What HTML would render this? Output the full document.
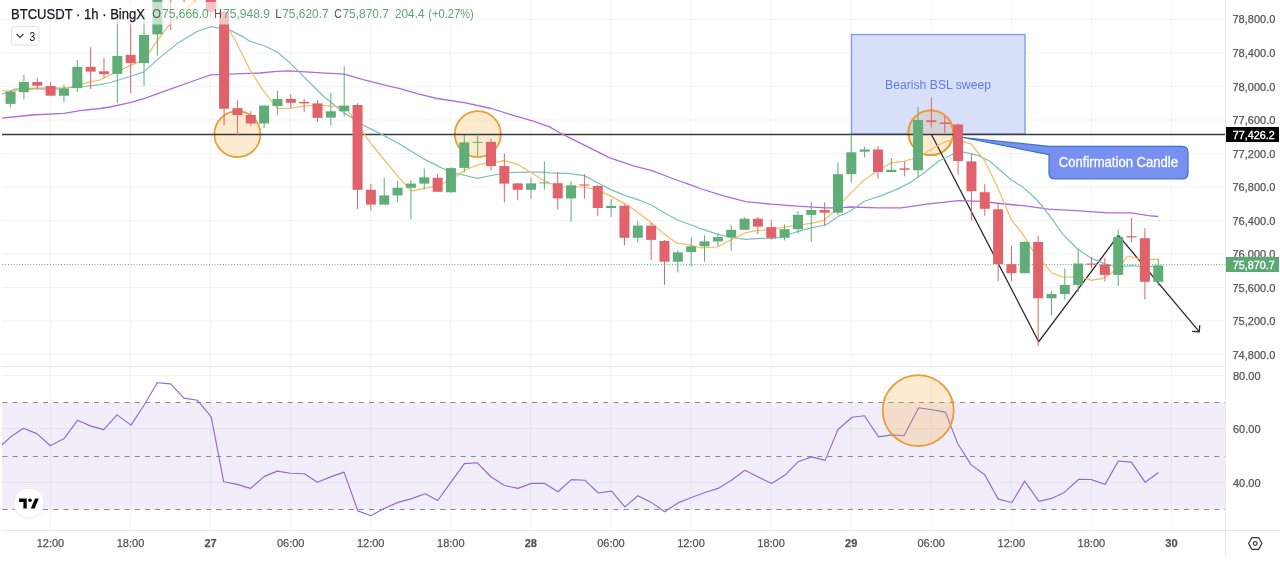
<!DOCTYPE html>
<html><head><meta charset="utf-8"><title>BTCUSDT chart</title>
<style>
html,body{margin:0;padding:0;background:#fff;width:1280px;height:561px;overflow:hidden;}
svg{display:block;font-family:'Liberation Sans', sans-serif;will-change:transform;}
</style></head><body>
<svg width="1280" height="561" viewBox="0 0 1280 561">
<defs>
<clipPath id="main"><rect x="2" y="0" width="1223" height="366"/></clipPath>
<clipPath id="rsip"><rect x="2" y="367" width="1223" height="163"/></clipPath>
</defs>
<rect width="1280" height="561" fill="#ffffff"/>

<g stroke="#f3f3f3" stroke-width="1"><line x1="50.45" y1="0" x2="50.45" y2="366" /><line x1="50.45" y1="367" x2="50.45" y2="530" /><line x1="130.51999999999998" y1="0" x2="130.51999999999998" y2="366" /><line x1="130.51999999999998" y1="367" x2="130.51999999999998" y2="530" /><line x1="210.58999999999997" y1="0" x2="210.58999999999997" y2="366" /><line x1="210.58999999999997" y1="367" x2="210.58999999999997" y2="530" /><line x1="290.65999999999997" y1="0" x2="290.65999999999997" y2="366" /><line x1="290.65999999999997" y1="367" x2="290.65999999999997" y2="530" /><line x1="370.72999999999996" y1="0" x2="370.72999999999996" y2="366" /><line x1="370.72999999999996" y1="367" x2="370.72999999999996" y2="530" /><line x1="450.79999999999995" y1="0" x2="450.79999999999995" y2="366" /><line x1="450.79999999999995" y1="367" x2="450.79999999999995" y2="530" /><line x1="530.87" y1="0" x2="530.87" y2="366" /><line x1="530.87" y1="367" x2="530.87" y2="530" /><line x1="610.94" y1="0" x2="610.94" y2="366" /><line x1="610.94" y1="367" x2="610.94" y2="530" /><line x1="691.01" y1="0" x2="691.01" y2="366" /><line x1="691.01" y1="367" x2="691.01" y2="530" /><line x1="771.0799999999999" y1="0" x2="771.0799999999999" y2="366" /><line x1="771.0799999999999" y1="367" x2="771.0799999999999" y2="530" /><line x1="851.15" y1="0" x2="851.15" y2="366" /><line x1="851.15" y1="367" x2="851.15" y2="530" /><line x1="931.22" y1="0" x2="931.22" y2="366" /><line x1="931.22" y1="367" x2="931.22" y2="530" /><line x1="1011.29" y1="0" x2="1011.29" y2="366" /><line x1="1011.29" y1="367" x2="1011.29" y2="530" /><line x1="1091.36" y1="0" x2="1091.36" y2="366" /><line x1="1091.36" y1="367" x2="1091.36" y2="530" /><line x1="1171.43" y1="0" x2="1171.43" y2="366" /><line x1="1171.43" y1="367" x2="1171.43" y2="530" /><line x1="2" y1="19.45" x2="1225" y2="19.45" /><line x1="2" y1="52.959999999999994" x2="1225" y2="52.959999999999994" /><line x1="2" y1="86.47" x2="1225" y2="86.47" /><line x1="2" y1="119.98" x2="1225" y2="119.98" /><line x1="2" y1="153.48999999999998" x2="1225" y2="153.48999999999998" /><line x1="2" y1="186.99999999999997" x2="1225" y2="186.99999999999997" /><line x1="2" y1="220.51" x2="1225" y2="220.51" /><line x1="2" y1="254.01999999999998" x2="1225" y2="254.01999999999998" /><line x1="2" y1="287.53" x2="1225" y2="287.53" /><line x1="2" y1="321.03999999999996" x2="1225" y2="321.03999999999996" /><line x1="2" y1="354.54999999999995" x2="1225" y2="354.54999999999995" /><line x1="2" y1="375.5" x2="1225" y2="375.5" /><line x1="2" y1="428.5" x2="1225" y2="428.5" /><line x1="2" y1="482.5" x2="1225" y2="482.5" /></g>
<g stroke="#e8e8ea" stroke-width="1"><line x1="2" y1="366.5" x2="1225" y2="366.5"/><line x1="2" y1="530.5" x2="1280" y2="530.5"/><line x1="1225.5" y1="0" x2="1225.5" y2="556"/></g>
<g clip-path="url(#rsip)">
<rect x="2" y="402.6" width="1223" height="107.1" fill="#7e57c2" fill-opacity="0.1"/>
<line x1="2" y1="402.5" x2="1225" y2="402.5" stroke="#868993" stroke-width="1" stroke-dasharray="5,5.185" stroke-dashoffset="-0.37"/>
<line x1="2" y1="456.5" x2="1225" y2="456.5" stroke="#868993" stroke-width="1" stroke-dasharray="5,5.185" stroke-dashoffset="-0.37"/>
<line x1="2" y1="509.5" x2="1225" y2="509.5" stroke="#868993" stroke-width="1" stroke-dasharray="5,5.185" stroke-dashoffset="-0.37"/>
<polyline points="-2.3,448.9 10.7,436.8 23.5,428.3 36.9,433.6 50.3,445.7 64.2,438.4 77.5,420.3 90.9,426.1 103.7,429.6 117.1,414.9 131.0,425.1 144.4,404.8 157.2,382.8 170.6,383.9 184.0,398.1 197.3,400.2 211.2,416.8 223.7,481.8 237.1,484.4 250.5,488.4 264.4,476.4 277.2,471.1 290.6,473.2 304.5,473.7 317.3,482.3 330.7,476.9 344.0,472.1 357.9,510.9 370.8,515.7 384.1,508.5 398.0,502.4 410.9,498.9 425.2,493.8 437.7,500.5 451.1,481.8 464.5,463.6 477.3,462.8 491.2,477.0 504.6,485.5 517.9,488.4 531.3,483.4 544.7,483.4 558.0,491.7 571.4,479.6 584.8,480.2 598.2,493.0 611.5,491.1 624.9,506.9 637.9,495.7 651.3,502.4 664.7,511.7 678.0,502.9 691.4,497.5 704.8,492.5 718.1,488.4 731.5,480.2 744.9,470.3 758.2,477.0 771.6,483.6 785.0,475.1 798.3,461.7 811.7,456.9 825.1,460.4 838.0,429.5 852.1,417.2 864.4,415.8 878.6,436.9 892.0,434.9 904.0,435.8 918.6,407.8 932.0,409.8 945.4,412.1 957.7,443.5 971.1,464.9 984.8,474.8 998.2,499.1 1011.9,502.5 1024.7,481.1 1039.0,501.4 1051.6,498.4 1064.2,492.4 1078.9,479.2 1091.1,479.5 1105.1,484.4 1118.3,461.0 1131.3,462.1 1145.2,482.3 1158.5,472.5" fill="none" stroke="#8c6ed2" stroke-width="1.15" stroke-linejoin="round"/>
<circle cx="918.2" cy="410.6" r="35.5" fill="#f5a623" fill-opacity="0.22" stroke="#eb9b38" stroke-width="1.8"/>
</g>
<g clip-path="url(#main)">
<rect x="851.5" y="34.5" width="173.5" height="99.5" fill="#d6ddf9" fill-opacity="0.95" stroke="#7b98f5" stroke-width="1.3"/>
<text x="938" y="89" font-size="12.5" fill="#5b7cf0" text-anchor="middle" textLength="106" lengthAdjust="spacingAndGlyphs">Bearish BSL sweep</text>
<clipPath id="rectc"><rect x="852" y="35" width="173" height="99"/></clipPath>
<circle cx="237.4" cy="134.2" r="23" fill="#f5a623" fill-opacity="0.22" stroke="#eb9b38" stroke-width="1.8"/>
<circle cx="477.8" cy="134.2" r="23" fill="#f5a623" fill-opacity="0.22" stroke="#eb9b38" stroke-width="1.8"/>
<circle cx="930.8" cy="132.8" r="22.4" fill="#f5a623" fill-opacity="0.22" stroke="#eb9b38" stroke-width="1.8"/>
<circle cx="930.8" cy="132.8" r="21.5" fill="#d5d3d5" clip-path="url(#rectc)"/>
<circle cx="930.8" cy="132.8" r="22.4" fill="none" stroke="#eb9b38" stroke-width="1.8"/>
<line x1="2" y1="134.5" x2="1225" y2="134.5" stroke="#3a3a3a" stroke-width="1.3"/>
<path d="M963,137.5 L1049,146.3 L1182,146.3 Q1188,146.3 1188,152.3 L1188,173 Q1188,179 1182,179 L1055,179 Q1049,179 1049,173 L1049,154.6 Z" fill="#7890f0" stroke="#3b74c4" stroke-width="1.2"/>
<text x="1058.8" y="166.9" font-size="13.8" fill="#ffffff" stroke="#ffffff" stroke-width="0.3" textLength="119.2" lengthAdjust="spacingAndGlyphs">Confirmation Candle</text>
<polyline points="931.3,134.2 1038.7,341.7 1118.4,235.4 1199.2,331.7" fill="none" stroke="#2b2b2b" stroke-width="1.3" stroke-linejoin="miter"/>
<polyline points="1192.1,331.3 1199.2,331.7 1199.8,325.3" fill="none" stroke="#2b2b2b" stroke-width="1.3"/>
<polyline points="2.0,118.1 32.0,115.0 64.0,113.4 80.0,110.6 100.0,108.5 110.0,107.0 130.1,102.7 144.0,98.6 169.6,89.3 197.4,79.5 210.8,74.9 229.9,74.2 260.0,73.0 277.1,71.4 290.0,70.8 321.3,72.8 344.1,74.2 364.1,79.9 386.9,85.6 400.0,88.6 417.1,93.7 437.1,98.5 465.6,102.8 491.3,108.5 514.1,115.7 534.1,121.4 550.0,127.1 561.4,133.7 584.2,145.1 609.9,157.9 632.7,165.6 652.7,170.8 672.6,178.5 692.6,185.6 700.0,188.5 722.8,195.6 745.6,201.6 771.3,204.2 797.0,206.2 825.5,207.9 839.8,207.9 850.0,207.0 878.5,207.8 901.3,207.8 927.0,204.1 958.4,200.7 981.2,201.3 1000.0,203.5 1022.8,205.7 1048.5,209.1 1079.9,210.8 1108.4,212.8 1131.2,212.8 1148.3,215.7 1158.3,216.5" fill="none" stroke="#b16bd8" stroke-width="1.3" stroke-linejoin="round"/>
<polyline points="2.0,94.2 16.0,88.9 36.9,88.1 64.1,88.1 83.4,86.5 100.0,84.6 110.0,82.5 130.1,76.5 144.0,71.9 158.0,59.1 176.5,44.1 197.4,31.3 210.8,26.7 229.9,30.1 243.8,37.1 250.0,41.4 264.3,45.7 277.1,52.0 290.0,62.8 307.0,80.0 324.2,97.0 344.1,112.7 364.1,125.6 381.2,134.1 400.0,144.2 411.4,151.3 422.8,158.4 437.1,165.6 451.3,172.7 465.6,175.5 477.0,178.4 491.3,175.5 508.4,172.7 528.4,172.1 542.6,172.1 550.0,172.8 570.0,173.6 584.2,175.6 598.5,183.3 611.3,189.9 625.6,195.6 638.4,199.9 651.3,205.0 664.1,212.7 676.9,219.8 692.6,225.5 700.0,228.4 717.1,234.1 731.4,237.5 745.6,239.3 759.9,238.4 774.2,238.4 785.6,235.5 798.4,231.3 811.2,227.8 825.5,225.0 839.8,215.6 850.0,211.2 864.3,201.3 881.4,195.6 895.6,189.9 909.9,182.7 924.2,172.7 938.4,161.3 952.7,154.2 964.1,152.2 978.4,155.6 989.8,161.3 1011.4,180.0 1022.8,187.1 1037.1,200.0 1048.5,214.2 1062.7,234.2 1077.0,248.5 1091.3,258.4 1105.5,264.1 1116.9,267.0 1131.2,265.6 1145.5,267.0 1158.6,266.1" fill="none" stroke="#7cc0c0" stroke-width="1.2" stroke-linejoin="round"/>
<polyline points="2.0,90.5 9.6,91.3 36.9,88.9 51.3,90.5 64.1,88.1 77.0,85.7 91.4,81.7 100.0,80.0 111.6,74.2 130.1,65.6 144.0,59.8 155.7,42.9 169.6,24.3 183.5,10.4 196.2,0.0 204.0,-6.0 214.8,0.5 218.0,8.6 229.0,30.0 234.5,39.0 250.0,70.0 262.8,89.9 277.1,108.5 289.9,108.5 304.2,106.2 317.0,105.0 331.3,106.2 344.1,107.0 348.4,111.3 364.1,134.1 372.6,145.5 398.3,176.9 411.4,191.2 424.2,188.4 438.5,185.5 451.3,179.8 465.6,169.8 479.9,164.1 491.3,163.3 504.1,160.7 516.9,164.1 531.2,172.7 545.5,181.3 550.0,183.3 561.4,187.0 584.2,187.0 597.1,189.9 609.9,195.6 625.6,204.1 638.4,212.7 651.3,222.7 664.1,234.1 676.9,243.2 692.6,245.5 700.0,247.8 717.1,247.0 731.4,239.8 745.6,232.7 757.0,230.7 771.3,229.3 785.6,227.0 798.4,225.0 811.2,223.3 824.1,220.4 834.1,211.3 848.3,195.6 864.3,179.9 878.5,169.9 891.4,162.7 904.2,161.3 918.5,157.0 932.7,148.5 944.1,142.2 952.7,139.9 962.7,141.4 971.0,143.9 985.0,161.0 997.8,187.8 1011.4,219.9 1022.8,234.2 1034.2,252.7 1045.6,265.6 1051.3,272.7 1062.7,277.0 1074.2,277.0 1085.6,278.4 1091.3,280.4 1102.7,278.4 1114.1,271.3 1122.6,262.7 1127.4,256.0 1138.7,258.6 1149.9,259.4 1158.6,259.4" fill="none" stroke="#f3bd5c" stroke-width="1.2" stroke-linejoin="round"/>
<line x1="2" y1="264.6" x2="1225" y2="264.6" stroke="#5aa873" stroke-width="1" stroke-dasharray="1,1.79" stroke-dashoffset="-0.5"/>
<rect x="10.07" y="90.5" width="1" height="16.9" fill="#60ad77"/><rect x="5.57" y="91.7" width="10" height="12.2" fill="#60ad77"/><rect x="23.41" y="75.0" width="1" height="24.4" fill="#60ad77"/><rect x="18.91" y="82.0" width="10" height="10.2" fill="#60ad77"/><rect x="36.76" y="78.2" width="1" height="10.8" fill="#e0636c"/><rect x="32.26" y="82.0" width="10" height="3.7" fill="#e0636c"/><rect x="50.11" y="82.0" width="1" height="13.7" fill="#e0636c"/><rect x="45.61" y="86.0" width="10" height="9.7" fill="#e0636c"/><rect x="63.45" y="84.6" width="1" height="17.6" fill="#60ad77"/><rect x="58.95" y="88.6" width="10" height="7.1" fill="#60ad77"/><rect x="76.80" y="60.0" width="1" height="32.2" fill="#60ad77"/><rect x="72.30" y="66.8" width="10" height="21.3" fill="#60ad77"/><rect x="90.14" y="47.2" width="1" height="41.8" fill="#e0636c"/><rect x="85.64" y="66.8" width="10" height="4.8" fill="#e0636c"/><rect x="103.49" y="58.0" width="1" height="19.7" fill="#e0636c"/><rect x="98.99" y="71.3" width="10" height="2.9" fill="#e0636c"/><rect x="116.83" y="12.0" width="1" height="91.0" fill="#60ad77"/><rect x="112.33" y="55.9" width="10" height="18.0" fill="#60ad77"/><rect x="130.18" y="18.0" width="1" height="75.1" fill="#e0636c"/><rect x="125.68" y="54.9" width="10" height="8.2" fill="#e0636c"/><rect x="143.52" y="14.0" width="1" height="71.9" fill="#60ad77"/><rect x="139.02" y="34.9" width="10" height="28.2" fill="#60ad77"/><rect x="156.87" y="-10.0" width="1" height="65.9" fill="#60ad77"/><rect x="152.37" y="-10.0" width="10" height="44.4" fill="#60ad77"/><rect x="170.21" y="-40.0" width="1" height="69.7" fill="#e0636c"/><rect x="165.71" y="-30.0" width="10" height="25.0" fill="#e0636c"/><rect x="183.56" y="-50.0" width="1" height="52.3" fill="#e0636c"/><rect x="179.06" y="-40.0" width="10" height="30.0" fill="#e0636c"/><rect x="210.25" y="-30.0" width="1" height="46.4" fill="#e0636c"/><rect x="205.75" y="-20.0" width="10" height="31.7" fill="#e0636c"/><rect x="223.59" y="11.7" width="1" height="113.5" fill="#e0636c"/><rect x="219.09" y="11.7" width="10" height="97.1" fill="#e0636c"/><rect x="236.94" y="100.2" width="1" height="34.7" fill="#e0636c"/><rect x="232.44" y="108.1" width="10" height="6.9" fill="#e0636c"/><rect x="250.28" y="111.3" width="1" height="14.6" fill="#e0636c"/><rect x="245.78" y="115.0" width="10" height="8.5" fill="#e0636c"/><rect x="263.62" y="104.9" width="1" height="23.1" fill="#60ad77"/><rect x="259.12" y="105.6" width="10" height="17.9" fill="#60ad77"/><rect x="276.97" y="91.0" width="1" height="24.2" fill="#60ad77"/><rect x="272.47" y="98.9" width="10" height="7.1" fill="#60ad77"/><rect x="290.31" y="94.2" width="1" height="13.9" fill="#e0636c"/><rect x="285.81" y="98.9" width="10" height="3.9" fill="#e0636c"/><rect x="303.66" y="98.9" width="1" height="12.9" fill="#e0636c"/><rect x="299.16" y="101.9" width="10" height="1.5" fill="#e0636c"/><rect x="317.00" y="100.2" width="1" height="21.4" fill="#e0636c"/><rect x="312.50" y="103.4" width="10" height="14.4" fill="#e0636c"/><rect x="330.35" y="92.8" width="1" height="32.8" fill="#60ad77"/><rect x="325.85" y="111.3" width="10" height="6.3" fill="#60ad77"/><rect x="343.69" y="66.3" width="1" height="50.2" fill="#60ad77"/><rect x="339.19" y="105.6" width="10" height="5.7" fill="#60ad77"/><rect x="357.04" y="103.4" width="1" height="105.5" fill="#e0636c"/><rect x="352.54" y="105.0" width="10" height="84.8" fill="#e0636c"/><rect x="370.38" y="184.0" width="1" height="26.6" fill="#e0636c"/><rect x="365.88" y="189.8" width="10" height="14.8" fill="#e0636c"/><rect x="383.73" y="177.8" width="1" height="26.8" fill="#60ad77"/><rect x="379.23" y="195.4" width="10" height="9.2" fill="#60ad77"/><rect x="397.07" y="181.2" width="1" height="20.6" fill="#60ad77"/><rect x="392.57" y="187.8" width="10" height="7.6" fill="#60ad77"/><rect x="410.42" y="180.3" width="1" height="39.0" fill="#60ad77"/><rect x="405.92" y="183.6" width="10" height="4.2" fill="#60ad77"/><rect x="423.76" y="168.6" width="1" height="20.7" fill="#60ad77"/><rect x="419.26" y="177.3" width="10" height="6.3" fill="#60ad77"/><rect x="437.11" y="174.1" width="1" height="17.7" fill="#e0636c"/><rect x="432.61" y="177.8" width="10" height="14.0" fill="#e0636c"/><rect x="450.46" y="167.4" width="1" height="25.4" fill="#60ad77"/><rect x="445.96" y="168.1" width="10" height="24.2" fill="#60ad77"/><rect x="463.80" y="135.0" width="1" height="37.4" fill="#60ad77"/><rect x="459.30" y="142.4" width="10" height="25.5" fill="#60ad77"/><rect x="477.15" y="133.0" width="1" height="23.1" fill="#60ad77"/><rect x="472.65" y="141.9" width="10" height="1.0" fill="#60ad77"/><rect x="490.49" y="138.7" width="1" height="31.7" fill="#e0636c"/><rect x="485.99" y="141.9" width="10" height="24.2" fill="#e0636c"/><rect x="503.84" y="153.6" width="1" height="48.7" fill="#e0636c"/><rect x="499.34" y="166.1" width="10" height="17.5" fill="#e0636c"/><rect x="517.18" y="182.8" width="1" height="17.5" fill="#e0636c"/><rect x="512.68" y="183.4" width="10" height="6.4" fill="#e0636c"/><rect x="530.53" y="177.4" width="1" height="21.4" fill="#60ad77"/><rect x="526.03" y="183.4" width="10" height="6.4" fill="#60ad77"/><rect x="543.87" y="161.4" width="1" height="28.4" fill="#60ad77"/><rect x="539.37" y="182.4" width="10" height="1.0" fill="#60ad77"/><rect x="557.22" y="172.0" width="1" height="37.5" fill="#e0636c"/><rect x="552.72" y="183.2" width="10" height="15.2" fill="#e0636c"/><rect x="570.56" y="181.3" width="1" height="40.6" fill="#60ad77"/><rect x="566.06" y="185.3" width="10" height="13.1" fill="#60ad77"/><rect x="583.91" y="174.2" width="1" height="24.6" fill="#e0636c"/><rect x="579.41" y="184.5" width="10" height="1.1" fill="#e0636c"/><rect x="597.25" y="184.9" width="1" height="31.1" fill="#e0636c"/><rect x="592.75" y="186.0" width="10" height="22.0" fill="#e0636c"/><rect x="610.60" y="198.8" width="1" height="18.2" fill="#60ad77"/><rect x="606.10" y="205.9" width="10" height="2.1" fill="#60ad77"/><rect x="623.94" y="204.4" width="1" height="40.9" fill="#e0636c"/><rect x="619.44" y="205.7" width="10" height="32.1" fill="#e0636c"/><rect x="637.29" y="221.0" width="1" height="21.7" fill="#60ad77"/><rect x="632.79" y="225.6" width="10" height="12.2" fill="#60ad77"/><rect x="650.63" y="222.8" width="1" height="37.0" fill="#e0636c"/><rect x="646.13" y="225.6" width="10" height="14.3" fill="#e0636c"/><rect x="663.98" y="239.9" width="1" height="44.9" fill="#e0636c"/><rect x="659.48" y="241.0" width="10" height="20.7" fill="#e0636c"/><rect x="677.32" y="250.2" width="1" height="22.2" fill="#60ad77"/><rect x="672.82" y="252.3" width="10" height="9.4" fill="#60ad77"/><rect x="690.67" y="237.3" width="1" height="29.3" fill="#60ad77"/><rect x="686.17" y="246.3" width="10" height="5.8" fill="#60ad77"/><rect x="704.01" y="235.2" width="1" height="26.5" fill="#60ad77"/><rect x="699.51" y="241.4" width="10" height="4.9" fill="#60ad77"/><rect x="717.36" y="233.5" width="1" height="12.8" fill="#60ad77"/><rect x="712.86" y="237.1" width="10" height="4.3" fill="#60ad77"/><rect x="730.70" y="225.0" width="1" height="25.7" fill="#60ad77"/><rect x="726.20" y="229.8" width="10" height="7.5" fill="#60ad77"/><rect x="744.05" y="217.4" width="1" height="12.4" fill="#60ad77"/><rect x="739.55" y="218.7" width="10" height="11.1" fill="#60ad77"/><rect x="757.39" y="217.0" width="1" height="17.1" fill="#e0636c"/><rect x="752.89" y="218.7" width="10" height="7.9" fill="#e0636c"/><rect x="770.74" y="220.2" width="1" height="19.3" fill="#e0636c"/><rect x="766.24" y="227.1" width="10" height="10.7" fill="#e0636c"/><rect x="784.08" y="224.5" width="1" height="16.0" fill="#60ad77"/><rect x="779.58" y="229.2" width="10" height="8.6" fill="#60ad77"/><rect x="797.43" y="211.2" width="1" height="22.3" fill="#60ad77"/><rect x="792.93" y="214.9" width="10" height="14.3" fill="#60ad77"/><rect x="810.77" y="201.6" width="1" height="40.0" fill="#60ad77"/><rect x="806.27" y="210.0" width="10" height="4.9" fill="#60ad77"/><rect x="824.12" y="202.5" width="1" height="23.1" fill="#e0636c"/><rect x="819.62" y="210.0" width="10" height="2.7" fill="#e0636c"/><rect x="837.46" y="162.5" width="1" height="52.4" fill="#60ad77"/><rect x="832.96" y="174.2" width="10" height="38.5" fill="#60ad77"/><rect x="850.81" y="134.5" width="1" height="48.2" fill="#60ad77"/><rect x="846.31" y="152.3" width="10" height="21.8" fill="#60ad77"/><rect x="864.15" y="146.7" width="1" height="10.7" fill="#60ad77"/><rect x="859.65" y="149.5" width="10" height="2.2" fill="#60ad77"/><rect x="877.50" y="146.3" width="1" height="32.5" fill="#e0636c"/><rect x="873.00" y="149.5" width="10" height="22.5" fill="#e0636c"/><rect x="890.84" y="158.0" width="1" height="14.0" fill="#60ad77"/><rect x="886.34" y="169.8" width="10" height="2.2" fill="#60ad77"/><rect x="904.19" y="161.3" width="1" height="15.0" fill="#e0636c"/><rect x="899.69" y="168.3" width="10" height="1.5" fill="#e0636c"/><rect x="917.53" y="107.1" width="1" height="70.2" fill="#60ad77"/><rect x="913.03" y="120.0" width="10" height="50.3" fill="#60ad77"/><rect x="930.88" y="97.5" width="1" height="29.9" fill="#e0636c"/><rect x="926.38" y="120.3" width="10" height="1.8" fill="#e0636c"/><rect x="944.22" y="115.7" width="1" height="17.1" fill="#e0636c"/><rect x="939.72" y="122.4" width="10" height="1.6" fill="#e0636c"/><rect x="957.57" y="123.5" width="1" height="51.4" fill="#e0636c"/><rect x="953.07" y="124.5" width="10" height="36.5" fill="#e0636c"/><rect x="970.91" y="153.5" width="1" height="67.1" fill="#e0636c"/><rect x="966.41" y="161.4" width="10" height="29.8" fill="#e0636c"/><rect x="984.26" y="184.2" width="1" height="31.5" fill="#e0636c"/><rect x="979.76" y="192.2" width="10" height="16.6" fill="#e0636c"/><rect x="997.60" y="203.5" width="1" height="77.7" fill="#e0636c"/><rect x="993.10" y="209.3" width="10" height="54.8" fill="#e0636c"/><rect x="1010.95" y="245.6" width="1" height="35.6" fill="#e0636c"/><rect x="1006.45" y="264.1" width="10" height="9.1" fill="#e0636c"/><rect x="1024.29" y="241.3" width="1" height="31.9" fill="#60ad77"/><rect x="1019.79" y="241.9" width="10" height="31.3" fill="#60ad77"/><rect x="1037.63" y="235.6" width="1" height="110.4" fill="#e0636c"/><rect x="1033.13" y="241.9" width="10" height="56.4" fill="#e0636c"/><rect x="1050.98" y="291.2" width="1" height="24.2" fill="#60ad77"/><rect x="1046.48" y="294.0" width="10" height="4.3" fill="#60ad77"/><rect x="1064.33" y="268.4" width="1" height="31.3" fill="#60ad77"/><rect x="1059.83" y="284.9" width="10" height="9.1" fill="#60ad77"/><rect x="1077.67" y="248.4" width="1" height="43.7" fill="#60ad77"/><rect x="1073.17" y="263.5" width="10" height="21.4" fill="#60ad77"/><rect x="1091.02" y="257.0" width="1" height="11.4" fill="#e0636c"/><rect x="1086.52" y="263.5" width="10" height="1.2" fill="#e0636c"/><rect x="1104.36" y="258.0" width="1" height="23.5" fill="#e0636c"/><rect x="1099.86" y="264.5" width="10" height="10.4" fill="#e0636c"/><rect x="1117.70" y="229.4" width="1" height="56.7" fill="#60ad77"/><rect x="1113.20" y="236.9" width="10" height="38.0" fill="#60ad77"/><rect x="1131.05" y="218.0" width="1" height="24.4" fill="#e0636c"/><rect x="1126.55" y="236.2" width="10" height="1.2" fill="#e0636c"/><rect x="1144.39" y="228.2" width="1" height="71.1" fill="#e0636c"/><rect x="1139.89" y="238.2" width="10" height="43.6" fill="#e0636c"/><rect x="1157.74" y="259.1" width="1" height="27.0" fill="#60ad77"/><rect x="1153.24" y="265.4" width="10" height="16.4" fill="#60ad77"/>
</g>
<rect x="9" y="2" width="470" height="22.5" fill="#ffffff" fill-opacity="0.62"/>
<text x="11" y="18.7" font-size="14" fill="#131722" stroke="#131722" stroke-width="0.25" textLength="134" lengthAdjust="spacingAndGlyphs">BTCUSDT · 1h · BingX</text>
<text x="152.3" y="17.7" font-size="12.6" fill="#555555" textLength="8.7" lengthAdjust="spacingAndGlyphs">O</text>
<text x="162.0" y="17.7" font-size="12.6" fill="#5aa873" textLength="46.8" lengthAdjust="spacingAndGlyphs">75,666.0</text>
<text x="214.2" y="17.7" font-size="12.6" fill="#555555" textLength="7.6" lengthAdjust="spacingAndGlyphs">H</text>
<text x="223.1" y="17.7" font-size="12.6" fill="#5aa873" textLength="46.8" lengthAdjust="spacingAndGlyphs">75,948.9</text>
<text x="275.2" y="17.7" font-size="12.6" fill="#555555" textLength="6.5" lengthAdjust="spacingAndGlyphs">L</text>
<text x="282.2" y="17.7" font-size="12.6" fill="#5aa873" textLength="46.4" lengthAdjust="spacingAndGlyphs">75,620.7</text>
<text x="334.2" y="17.7" font-size="12.6" fill="#555555" textLength="7.6" lengthAdjust="spacingAndGlyphs">C</text>
<text x="342.4" y="17.7" font-size="12.6" fill="#5aa873" textLength="46.5" lengthAdjust="spacingAndGlyphs">75,870.7</text>
<text x="394.9" y="17.7" font-size="12.6" fill="#5aa873" textLength="29.7" lengthAdjust="spacingAndGlyphs">204.4</text>
<text x="428.2" y="17.7" font-size="12.6" fill="#5aa873" textLength="45.6" lengthAdjust="spacingAndGlyphs">(+0.27%)</text>
<rect x="11.5" y="26.5" width="27.5" height="18.5" rx="3" fill="#ffffff" stroke="#e2e2e2" stroke-width="1"/>
<polyline points="16.5,34 20,37.5 23.5,34" fill="none" stroke="#3a3a3a" stroke-width="1.2"/>
<text x="29.2" y="40.6" font-size="13.5" fill="#222222" textLength="6" lengthAdjust="spacingAndGlyphs">3</text>
<text x="1232.4" y="23.4" font-size="11.6" fill="#555555" stroke="#555555" stroke-width="0.25" textLength="43" lengthAdjust="spacingAndGlyphs">78,800.0</text><text x="1232.4" y="57.0" font-size="11.6" fill="#555555" stroke="#555555" stroke-width="0.25" textLength="43" lengthAdjust="spacingAndGlyphs">78,400.0</text><text x="1232.4" y="90.5" font-size="11.6" fill="#555555" stroke="#555555" stroke-width="0.25" textLength="43" lengthAdjust="spacingAndGlyphs">78,000.0</text><text x="1232.4" y="124.0" font-size="11.6" fill="#555555" stroke="#555555" stroke-width="0.25" textLength="43" lengthAdjust="spacingAndGlyphs">77,600.0</text><text x="1232.4" y="157.5" font-size="11.6" fill="#555555" stroke="#555555" stroke-width="0.25" textLength="43" lengthAdjust="spacingAndGlyphs">77,200.0</text><text x="1232.4" y="191.0" font-size="11.6" fill="#555555" stroke="#555555" stroke-width="0.25" textLength="43" lengthAdjust="spacingAndGlyphs">76,800.0</text><text x="1232.4" y="224.5" font-size="11.6" fill="#555555" stroke="#555555" stroke-width="0.25" textLength="43" lengthAdjust="spacingAndGlyphs">76,400.0</text><text x="1232.4" y="258.0" font-size="11.6" fill="#555555" stroke="#555555" stroke-width="0.25" textLength="43" lengthAdjust="spacingAndGlyphs">76,000.0</text><text x="1232.4" y="291.5" font-size="11.6" fill="#555555" stroke="#555555" stroke-width="0.25" textLength="43" lengthAdjust="spacingAndGlyphs">75,600.0</text><text x="1232.4" y="325.0" font-size="11.6" fill="#555555" stroke="#555555" stroke-width="0.25" textLength="43" lengthAdjust="spacingAndGlyphs">75,200.0</text><text x="1232.4" y="358.5" font-size="11.6" fill="#555555" stroke="#555555" stroke-width="0.25" textLength="43" lengthAdjust="spacingAndGlyphs">74,800.0</text><text x="1233" y="379.5" font-size="11" fill="#555555" stroke="#555555" stroke-width="0.25">80.00</text><text x="1233" y="433.0" font-size="11" fill="#555555" stroke="#555555" stroke-width="0.25">60.00</text><text x="1233" y="486.7" font-size="11" fill="#555555" stroke="#555555" stroke-width="0.25">40.00</text>
<rect x="1226" y="127" width="53" height="15" fill="#000000"/>
<text x="1232.8" y="138.5" font-size="11.5" fill="#ffffff" stroke="#ffffff" stroke-width="0.35" textLength="42" lengthAdjust="spacingAndGlyphs">77,426.2</text>
<rect x="1226" y="257" width="53" height="15" fill="#5aa873"/>
<text x="1232.8" y="268.5" font-size="11.5" fill="#ffffff" stroke="#ffffff" stroke-width="0.3" textLength="42" lengthAdjust="spacingAndGlyphs">75,870.7</text>
<text x="50.45" y="547.2" font-size="11" fill="#555555" stroke="#555555" stroke-width="0.25" text-anchor="middle">12:00</text><text x="130.51999999999998" y="547.2" font-size="11" fill="#555555" stroke="#555555" stroke-width="0.25" text-anchor="middle">18:00</text><text x="210.58999999999997" y="547.2" font-size="11" fill="#555555" stroke="#555555" stroke-width="0.25" text-anchor="middle" font-weight="bold">27</text><text x="290.65999999999997" y="547.2" font-size="11" fill="#555555" stroke="#555555" stroke-width="0.25" text-anchor="middle">06:00</text><text x="370.72999999999996" y="547.2" font-size="11" fill="#555555" stroke="#555555" stroke-width="0.25" text-anchor="middle">12:00</text><text x="450.79999999999995" y="547.2" font-size="11" fill="#555555" stroke="#555555" stroke-width="0.25" text-anchor="middle">18:00</text><text x="530.87" y="547.2" font-size="11" fill="#555555" stroke="#555555" stroke-width="0.25" text-anchor="middle" font-weight="bold">28</text><text x="610.94" y="547.2" font-size="11" fill="#555555" stroke="#555555" stroke-width="0.25" text-anchor="middle">06:00</text><text x="691.01" y="547.2" font-size="11" fill="#555555" stroke="#555555" stroke-width="0.25" text-anchor="middle">12:00</text><text x="771.0799999999999" y="547.2" font-size="11" fill="#555555" stroke="#555555" stroke-width="0.25" text-anchor="middle">18:00</text><text x="851.15" y="547.2" font-size="11" fill="#555555" stroke="#555555" stroke-width="0.25" text-anchor="middle" font-weight="bold">29</text><text x="931.22" y="547.2" font-size="11" fill="#555555" stroke="#555555" stroke-width="0.25" text-anchor="middle">06:00</text><text x="1011.29" y="547.2" font-size="11" fill="#555555" stroke="#555555" stroke-width="0.25" text-anchor="middle">12:00</text><text x="1091.36" y="547.2" font-size="11" fill="#555555" stroke="#555555" stroke-width="0.25" text-anchor="middle">18:00</text><text x="1171.43" y="547.2" font-size="11" fill="#555555" stroke="#555555" stroke-width="0.25" text-anchor="middle" font-weight="bold">30</text>
<circle cx="28.9" cy="503.1" r="15.2" fill="#ffffff" stroke="#ebe8f0" stroke-width="1"/>
<path d="M19.1,498.4 H26.7 V508.6 H23.4 V501.9 H19.1 Z" fill="#000"/>
<circle cx="30" cy="500.3" r="1.8" fill="#000"/>
<path d="M30.8,508.6 L34.6,508.6 L38.8,498.4 L35,498.4 Z" fill="#000"/>
<path d="M1248.6,543.5 L1251.9,537.6 L1258.6,537.6 L1261.9,543.5 L1258.6,549.4 L1251.9,549.4 Z" fill="none" stroke="#3a3a3a" stroke-width="1.2"/>
<circle cx="1255.2" cy="543.5" r="1.9" fill="none" stroke="#3a3a3a" stroke-width="1.2"/>
</svg></body></html>
